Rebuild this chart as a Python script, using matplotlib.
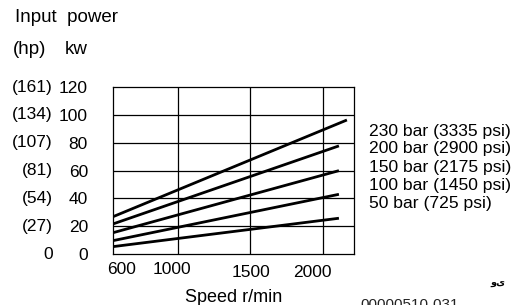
import matplotlib.pyplot as plt
import matplotlib.transforms as mtransforms

plt.rcParams['font.family'] = ['Liberation Sans', 'DejaVu Sans']

# ------------------------------------------------
# Data
# ------------------------------------------------
kw_ticks = [0, 20, 40, 60, 80, 100, 120]
hp_labels = ["0", "(27)", "(54)", "(81)", "(107)", "(134)", "(161)"]
speed_ticks = [600, 1000, 1500, 2000]
speed_grid = [1000, 1500, 2000]

series_names = ["230 bar (3335 psi)", "200 bar (2900 psi)", "150 bar (2175 psi)",
                "100 bar (1450 psi)", "50 bar (725 psi)"]
series_speed = [[552, 2165], [552, 2110], [552, 2110], [552, 2110], [552, 2110]]
series_kw = [[26.8, 96.3], [21.6, 77.7], [15.3, 59.9], [9.6, 42.9], [5.3, 25.7]]
label_kw = [87.7, 75.5, 62.5, 48.9, 36.0]

# ------------------------------------------------
# Figure
# ------------------------------------------------
fig = plt.figure(figsize=(5.19, 3.05), dpi=100)
ax = fig.add_axes([0.2177, 0.1672, 0.4644, 0.5475])

ax.set_xlim(552, 2214)
ax.set_ylim(0, 120)

for sp, kw in zip(series_speed, series_kw):
    ax.plot(sp, kw, color="black", lw=2.0, solid_capstyle="butt")

for g in speed_grid:
    ax.axvline(g, color="black", lw=0.9)
for k in kw_ticks[1:-1]:
    ax.axhline(k, color="black", lw=0.9)

for s in ax.spines.values():
    s.set_linewidth(0.9)

# kW column as tick labels
ax.set_yticks(kw_ticks)
ax.set_yticklabels([str(k) for k in kw_ticks])
ax.tick_params(axis="y", length=0, pad=18, labelsize=12.5)

# hp column
ytrans = mtransforms.blended_transform_factory(ax.transAxes, ax.transData)
for k, h in zip(kw_ticks, hp_labels):
    ax.text(-0.25, k, h, transform=ytrans, ha="right", va="center", fontsize=12.5)

# speed ticks, nudged like the drawing
ax.set_xticks(speed_ticks)
ax.set_xticklabels([str(s) for s in speed_ticks])
ax.tick_params(axis="x", length=0, pad=6, labelsize=12.5)
nudges = [(2, 0), (-6, 0), (1, -3), (-11, -3)]
for lbl, (dx, dy) in zip(ax.get_xticklabels(), nudges):
    lbl.set_transform(lbl.get_transform() +
                      mtransforms.ScaledTranslation(dx / 100, dy / 100, fig.dpi_scale_trans))

ax.set_xlabel("Speed r/min", fontsize=13, labelpad=6)

# series names on the right
for k, name in zip(label_kw, series_names):
    ax.text(1.062, k, name, transform=ytrans, ha="left", va="center", fontsize=12.6,
            clip_on=False)

# headings
fig.text(15 / 519, 1 - 18 / 305, "Input  power", fontsize=13.5, ha="left", va="center")
fig.text(13 / 519, 1 - 50 / 305, "(hp)", fontsize=13.5, ha="left", va="center")
fig.text(65 / 519, 1 - 50 / 305, "kw", fontsize=13.5, ha="left", va="center")

# stamp at the bottom right
fig.text(505 / 519, 1 - 283 / 305, "وی", family="DejaVu Sans", fontsize=7,
         fontweight="bold", ha="right", va="center")
fig.text(360 / 519, 1 - 305 / 305, "00000510-031", family="Liberation Sans",
         fontsize=11, color="#222222", ha="left", va="center")

fig.savefig("out.png", dpi=100)
